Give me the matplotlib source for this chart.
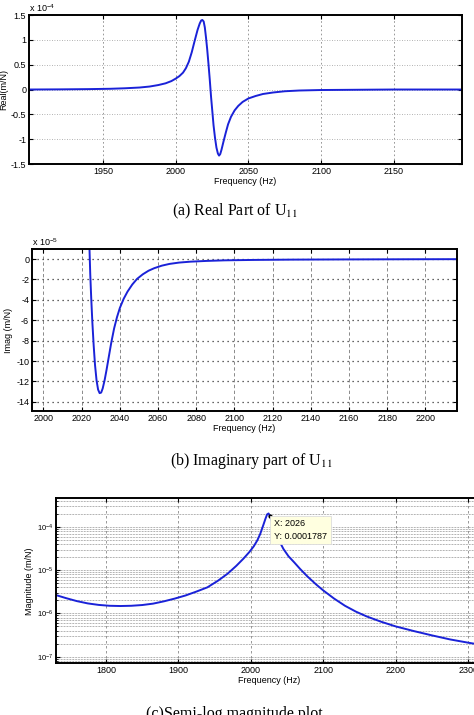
import matplotlib
matplotlib.use('Agg')
import matplotlib.pyplot as plt
from matplotlib.ticker import LogLocator, LogFormatterSciNotation, NullFormatter
import numpy as np

plt.rcParams['font.family'] = ['Liberation Sans', 'DejaVu Sans']
plt.rcParams['mathtext.fontset'] = 'custom'
plt.rcParams['mathtext.rm'] = 'Liberation Sans'
plt.rcParams['axes.unicode_minus'] = False

# --- data ---
# (a) real part, units of 1e-4 m/N
real_freq = [1899, 1920, 1940, 1955, 1965, 1975, 1982, 1988, 1993, 1997, 2000, 2002.5,
             2005, 2007, 2009, 2011, 2013, 2015, 2016.5, 2017.5, 2018.3, 2019.2, 2020,
             2020.8, 2021.6, 2022.5, 2023.4, 2024.3, 2025.2, 2026, 2027, 2028, 2029,
             2029.8, 2030.6, 2031.5, 2033, 2034.5, 2036, 2038, 2040.5, 2043, 2046, 2050,
             2055, 2060, 2067, 2075, 2085, 2100, 2125, 2150, 2197]
real_val = [0.0, 0.003, 0.008, 0.015, 0.025, 0.04, 0.06, 0.09, 0.125, 0.17, 0.22, 0.27,
            0.34, 0.43, 0.56, 0.75, 0.98, 1.2, 1.33, 1.39, 1.40, 1.37, 1.25,
            1.05, 0.82, 0.52, 0.2, -0.15, -0.45, -0.72, -0.97, -1.17, -1.29,
            -1.33, -1.30, -1.21, -1.03, -0.86, -0.70, -0.55, -0.42, -0.33, -0.25, -0.18,
            -0.13, -0.09, -0.06, -0.035, -0.02, -0.01, -0.005, 0.0, 0.0]

# (b) imaginary part, units of 1e-5 m/N
imag_freq = [2023.9, 2024.1, 2024.5, 2025, 2025.6, 2026.3, 2027, 2027.8, 2028.6, 2029.4,
             2030.2, 2031, 2032, 2033, 2034.2, 2035.5, 2037, 2038.5, 2040, 2042, 2044,
             2046.5, 2049, 2052, 2055, 2058, 2062, 2066, 2071, 2077, 2085, 2095, 2110,
             2130, 2160, 2190, 2218]
imag_val = [3.0, 1.0, -1.5, -3.8, -6.2, -8.5, -10.4, -11.9, -12.8, -13.15,
            -13.1, -12.7, -11.9, -10.9, -9.6, -8.2, -6.8, -5.7, -4.8, -3.9, -3.2,
            -2.5, -1.95, -1.5, -1.15, -0.9, -0.65, -0.48, -0.35, -0.26, -0.19, -0.13, -0.09,
            -0.06, -0.04, -0.025, -0.015]

# (c) magnitude, m/N
mag_freq = [1731, 1745, 1760, 1775, 1790, 1805, 1820, 1835, 1850, 1865, 1880, 1895, 1910,
            1925, 1940, 1955, 1968, 1980, 1990, 1998, 2004, 2009, 2013, 2017, 2020, 2022.5,
            2024.5, 2026, 2028, 2031, 2035, 2040, 2045, 2052, 2060, 2068, 2078, 2090, 2100,
            2115, 2130, 2145, 2160, 2180, 2200, 2225, 2250, 2275, 2300, 2320]
mag_val = [2.65e-6, 2.25e-6, 1.92e-6, 1.7e-6, 1.57e-6, 1.5e-6, 1.48e-6, 1.5e-6, 1.56e-6,
           1.68e-6, 1.9e-6, 2.2e-6, 2.6e-6, 3.2e-6, 4.0e-6, 5.75e-6, 8.3e-6, 1.26e-5, 1.86e-5,
           2.63e-5, 3.55e-5, 4.9e-5, 6.9e-5, 1.07e-4, 1.51e-4, 1.95e-4, 2.05e-4, 1.85e-4, 1.5e-4,
           1.05e-4, 7e-5, 4.5e-5, 3.1e-5, 2.1e-5, 1.51e-5, 1.07e-5, 7.2e-6, 4.7e-6, 3.4e-6,
           2.2e-6, 1.5e-6, 1.1e-6, 8.5e-7, 6.4e-7, 5.0e-7, 3.9e-7, 3.1e-7, 2.5e-7, 2.1e-7, 1.85e-7]
tip_freq, tip_mag = 2026, 0.0001787

LINE = '#1a22d8'
FS = 6.5

fig = plt.figure(figsize=(4.74, 7.15), dpi=100)


def matlab_axes(ax):
    ax.tick_params(direction='in', top=True, right=True, labelsize=FS, length=3, width=0.8, pad=2)
    ax.tick_params(which='minor', direction='in', top=True, right=True, length=1.5)
    for s in ax.spines.values():
        s.set_linewidth(1.4)


# --- (a) real part ---
ax1 = fig.add_axes([0.0612, 0.7706, 0.9135, 0.2084])
ax1.plot(real_freq, real_val, color=LINE, lw=1.4)
ax1.set_xlim(1899, 2197); ax1.set_ylim(-1.5, 1.5)
ax1.set_xticks([1950, 2000, 2050, 2100, 2150])
ax1.set_yticks([-1.5, -1, -0.5, 0, 0.5, 1, 1.5])
ax1.set_yticklabels(['-1.5', '-1', '-0.5', '0', '0.5', '1', '1.5'])
ax1.grid(True, axis='x', color='#888888', ls=(0, (2, 3)), lw=0.6)
ax1.grid(True, axis='y', color='#999999', ls=(0, (1, 2)), lw=0.6)
matlab_axes(ax1)
ax1.set_xlabel('Frequency (Hz)', fontsize=FS, labelpad=1)
ax1.set_ylabel('Real(m/N)', fontsize=FS, labelpad=2)
ax1.text(0.0, 1.01, r'x 10$^{-4}$', transform=ax1.transAxes, fontsize=FS, va='bottom', ha='left')

# --- (b) imaginary part ---
ax2 = fig.add_axes([0.0675, 0.4252, 0.8966, 0.2261])
ax2.plot(imag_freq, imag_val, color=LINE, lw=1.4)
ax2.set_xlim(1994, 2216.5); ax2.set_ylim(-14.9, 0.95)
ax2.set_xticks(range(2000, 2201, 20))
ax2.set_yticks(range(-14, 1, 2))
ax2.grid(True, axis='x', color='#777777', ls=(0, (4, 3)), lw=0.6)
ax2.grid(True, axis='y', color='#333333', ls=(0, (1, 3)), lw=0.9)
matlab_axes(ax2)
ax2.set_xlabel('Frequency (Hz)', fontsize=FS, labelpad=1)
ax2.set_ylabel('Imag (m/N)', fontsize=FS, labelpad=2)
ax2.text(0.0, 1.01, r'x 10$^{-5}$', transform=ax2.transAxes, fontsize=FS, va='bottom', ha='left')

# --- (c) semi-log magnitude ---
ax3 = fig.add_axes([0.1181, 0.0723, 0.9, 0.2308])
ax3.semilogy(mag_freq, mag_val, color=LINE, lw=1.4)
ax3.set_xlim(1731, 2320); ax3.set_ylim(7e-8, 4.6e-4)
ax3.set_xticks(range(1800, 2301, 100))
ax3.yaxis.set_major_locator(LogLocator(base=10, numticks=10))
ax3.yaxis.set_major_formatter(LogFormatterSciNotation())
ax3.yaxis.set_minor_locator(LogLocator(base=10, subs=np.arange(2, 10), numticks=20))
ax3.yaxis.set_minor_formatter(NullFormatter())
ax3.grid(True, axis='x', color='#888888', ls=(0, (3, 3)), lw=0.6)
ax3.grid(True, axis='y', which='both', color='#666666', ls=(0, (1, 1.2)), lw=0.5)
matlab_axes(ax3)
ax3.tick_params(axis='y', labelsize=5.5)
ax3.set_xlabel('Frequency (Hz)', fontsize=FS, labelpad=1)
ax3.set_ylabel('Magnitude (m/N)', fontsize=FS, labelpad=2)
ax3.plot([tip_freq], [tip_mag], 'o', color='black', ms=2, zorder=4)
ax3.text(2032, 1.5e-4, f'X: {tip_freq}\nY: {tip_mag}', fontsize=FS, va='top', ha='left',
         linespacing=1.5, zorder=5,
         bbox=dict(boxstyle='square,pad=0.4', fc='#ffffe0', ec='#dddddd', lw=0.6))

# --- captions ---
cap = dict(fontsize=11.5, family='Liberation Serif', ha='center', va='baseline')
plt.rcParams['mathtext.fontset'] = 'stix'
fig.text(0.496, 0.6983, r'(a) Real Part of U$_{\mathrm{11}}$', **cap)
fig.text(0.530, 0.3497, r'(b) Imaginary part of U$_{\mathrm{11}}$', **cap)
fig.text(0.494, -0.004, '(c)Semi-log magnitude plot', **cap)

plt.savefig('out.png', dpi=100)
plt.close()
